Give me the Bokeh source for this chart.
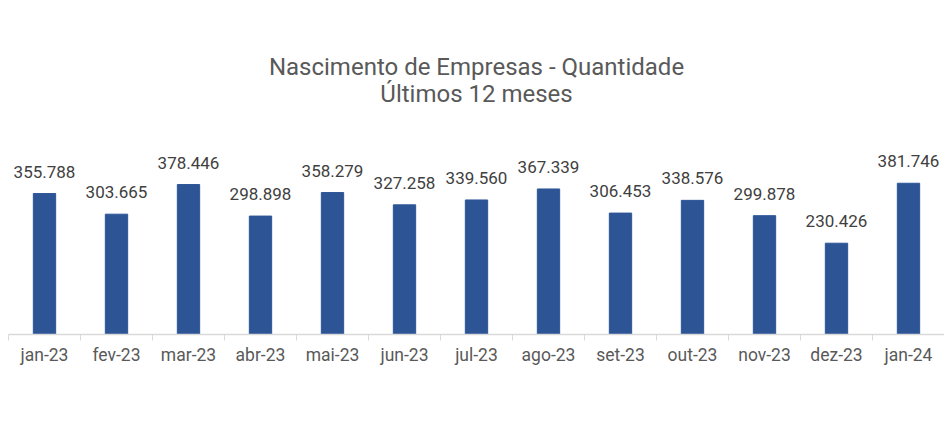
from bokeh.plotting import figure
from bokeh.models import ColumnDataSource, FixedTicker, Label, Range1d
from bokeh.core.properties import value
from bokeh.embed import file_html
from bokeh.resources import INLINE

months = ["jan-23", "fev-23", "mar-23", "abr-23", "mai-23", "jun-23", "jul-23",
          "ago-23", "set-23", "out-23", "nov-23", "dez-23", "jan-24"]
counts = [355788, 303665, 378446, 298898, 358279, 327258, 339560,
          367339, 306453, 338576, 299878, 230426, 381746]
title_main = "Nascimento de Empresas - Quantidade"
title_sub = "Últimos 12 meses"

centers = [i + 0.5 for i in range(len(months))]
bounds = [float(i) for i in range(len(months) + 1)]
labels = [f"{v:,}".replace(",", ".") for v in counts]

src = ColumnDataSource(dict(x=centers, top=counts, label=labels))

FONT = "Roboto"
Y_END = 843000

p = figure(width=944, height=408, output_backend="svg", toolbar_location=None,
           x_range=Range1d(0, len(months)), y_range=Range1d(0, Y_END),
           min_border_left=8, min_border_right=0, min_border_bottom=74,
           min_border_top=0)
p.outline_line_color = None
p.xgrid.visible = False
p.ygrid.visible = False
p.yaxis.visible = False
p.background_fill_color = "white"
p.border_fill_color = "white"

p.vbar(x="x", top="top", width=0.31, source=src, color="#2D5596")
p.text(x="x", y="top", text="label", source=src, text_align="center",
       text_baseline="bottom", y_offset=-16, text_font=value(FONT),
       text_font_size="17px", text_color="#404040")

ax = p.xaxis[0]
ax.ticker = FixedTicker(ticks=centers, minor_ticks=bounds)
ax.major_label_overrides = {c: m for c, m in zip(centers, months)}
ax.major_tick_line_color = None
ax.major_tick_out = 0
ax.major_tick_in = 0
ax.minor_tick_out = 6
ax.minor_tick_in = 0
ax.minor_tick_line_color = "#D9D9D9"
ax.axis_line_color = "#D9D9D9"
ax.axis_line_width = 1.5
ax.major_label_standoff = 4
ax.major_label_text_font = FONT
ax.major_label_text_font_size = "17.5px"
ax.major_label_text_color = "#595959"

mid_x = len(months) / 2
for txt, yy in ((title_main, 0.8000 * Y_END), (title_sub, 0.7190 * Y_END)):
    p.add_layout(Label(x=mid_x, y=yy, text=txt, text_align="center",
                       text_baseline="middle", text_font=FONT,
                       text_font_size="24px", text_color="#595959"))

open("out.html", "w").write(file_html(p, INLINE))
